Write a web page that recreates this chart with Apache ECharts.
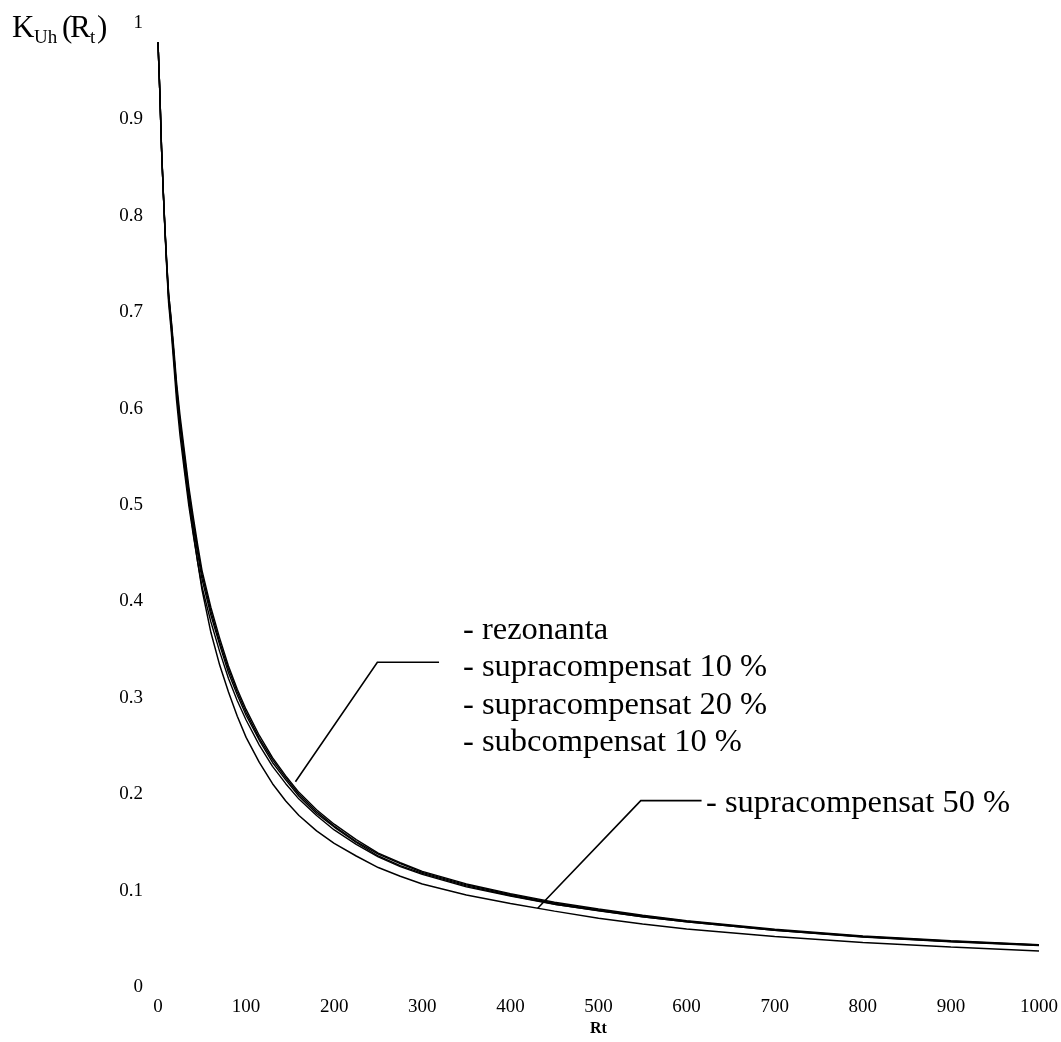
<!DOCTYPE html>
<html>
<head>
<meta charset="utf-8">
<script src="https://cdn.jsdelivr.net/npm/echarts@6/dist/echarts.min.js"></script>
<style>
html,body{margin:0;padding:0;background:#fff;}
#c{width:1061px;height:1042px;}
</style>
</head>
<body>
<div id="c"></div>
<script>
// Data
var rt = [0,2,4,6,8,10,12,15,18,21,25,30,35,40,45,50,60,70,80,90,100,115,130,145,160,180,200,225,250,275,300,350,400,450,500,550,600,700,800,900,1000];
var rezonanta = [0.98,0.93,0.87,0.825,0.785,0.75,0.72,0.693,0.662,0.628,0.593,0.556,0.519,0.488,0.459,0.432,0.394,0.362,0.333,0.309,0.288,0.261,0.238,0.219,0.202,0.184,0.169,0.153,0.139,0.129,0.120,0.107,0.097,0.088,0.081,0.0745,0.069,0.060,0.053,0.048,0.044];
var supra10   = [0.98,0.93,0.87,0.825,0.784,0.748,0.717,0.689,0.657,0.623,0.587,0.551,0.514,0.483,0.454,0.428,0.390,0.358,0.330,0.306,0.285,0.258,0.236,0.217,0.200,0.182,0.167,0.151,0.138,0.128,0.119,0.106,0.096,0.087,0.080,0.0738,0.0683,0.0594,0.0525,0.0475,0.0436];
var supra20   = [0.98,0.93,0.87,0.824,0.783,0.746,0.714,0.685,0.652,0.617,0.582,0.545,0.509,0.478,0.450,0.423,0.386,0.355,0.326,0.303,0.282,0.256,0.233,0.215,0.198,0.180,0.166,0.150,0.136,0.126,0.118,0.105,0.095,0.086,0.0794,0.073,0.0676,0.0588,0.052,0.047,0.0431];
var subcomp10 = [0.98,0.93,0.87,0.824,0.782,0.744,0.71,0.68,0.645,0.609,0.572,0.535,0.499,0.469,0.441,0.415,0.379,0.348,0.320,0.297,0.277,0.251,0.229,0.211,0.195,0.178,0.163,0.148,0.135,0.125,0.117,0.104,0.0945,0.0858,0.0792,0.0730,0.0677,0.0590,0.0522,0.0473,0.0434];
var supra50   = [0.98,0.93,0.87,0.825,0.785,0.75,0.72,0.69,0.655,0.62,0.583,0.54,0.505,0.472,0.441,0.412,0.368,0.334,0.306,0.281,0.259,0.233,0.211,0.193,0.178,0.162,0.149,0.136,0.124,0.115,0.107,0.0956,0.0868,0.0788,0.0715,0.0655,0.0603,0.0525,0.0463,0.0415,0.0375];

var seriesNames = ['rezonanta','supracompensat 10 %','supracompensat 20 %','subcompensat 10 %','supracompensat 50 %'];
var seriesData = [rezonanta, supra10, supra20, subcomp10, supra50];

var xTicks = {min:0, max:1000, interval:100};
var yTicks = {min:0, max:1, interval:0.1};

var FONT = '"Liberation Serif", "Times New Roman", serif';

function pairs(xs, ys){ return xs.map(function(x,i){ return [x, ys[i]]; }); }

var chart = echarts.init(document.getElementById('c'), null, {renderer:'canvas'});

var series = seriesData.map(function(d, i){
  return {
    name: seriesNames[i],
    type: 'line',
    data: pairs(rt, d),
    showSymbol: false,
    smooth: false,
    lineStyle: {color:'#000', width: i === 4 ? 1.5 : 1.4},
    animation: false
  };
});

chart.setOption({
  backgroundColor: '#fff',
  animation: false,
  grid: {left:158, right:20, top:23, bottom:52, containLabel:false},
  xAxis: {
    type:'value', min:xTicks.min, max:xTicks.max, interval:xTicks.interval,
    axisLine:{show:false}, axisTick:{show:false}, splitLine:{show:false},
    axisLabel:{color:'#000', fontFamily:FONT, fontSize:19, margin:10,
      formatter:function(v){ return String(v); }},
    name:'Rt', nameLocation:'middle', nameGap:32,
    nameTextStyle:{color:'#000', fontFamily:FONT, fontSize:16, fontWeight:'bold'}
  },
  yAxis: {
    type:'value', min:yTicks.min, max:yTicks.max, interval:yTicks.interval,
    axisLine:{show:false}, axisTick:{show:false}, splitLine:{show:false},
    axisLabel:{color:'#000', fontFamily:FONT, fontSize:19, margin:15}
  },
  series: series
});

function px(p){ return chart.convertToPixel({gridIndex:0}, p); }

// leader lines anchored in data space
var l1 = [px([156,0.213]), px([249,0.337]), px([319,0.337])];
var l2 = [px([431,0.0818]), px([548,0.1934]), px([617,0.1934])];

var LF = '32.5px ' + FONT;
function t(text, x, y, font){
  return {type:'text', x:x, y:y, silent:true,
    style:{text:text, fill:'#000', font:font, verticalAlign:'middle', align:'left'}};
}

chart.setOption({
  graphic: [
    {type:'polyline', shape:{points:l1}, style:{stroke:'#000', lineWidth:1.6, fill:null}, silent:true},
    {type:'polyline', shape:{points:l2}, style:{stroke:'#000', lineWidth:1.6, fill:null}, silent:true},
    t('- rezonanta', 463, 630, LF),
    t('- supracompensat 10 %', 463, 667, LF),
    t('- supracompensat 20 %', 463, 705, LF),
    t('- subcompensat 10 %', 463, 742, LF),
    t('- supracompensat 50 %', 706, 803, LF),
    // y-axis title K_Uh(R_t)
    t('K', 12, 29, '31px ' + FONT),
    t('Uh', 34, 38, '19px ' + FONT),
    t('(', 62, 29, '31px ' + FONT),
    t('R', 70, 29, '31px ' + FONT),
    t('t', 90, 38, '19px ' + FONT),
    t(')', 97, 29, '31px ' + FONT)
  ]
});
</script>
</body>
</html>
